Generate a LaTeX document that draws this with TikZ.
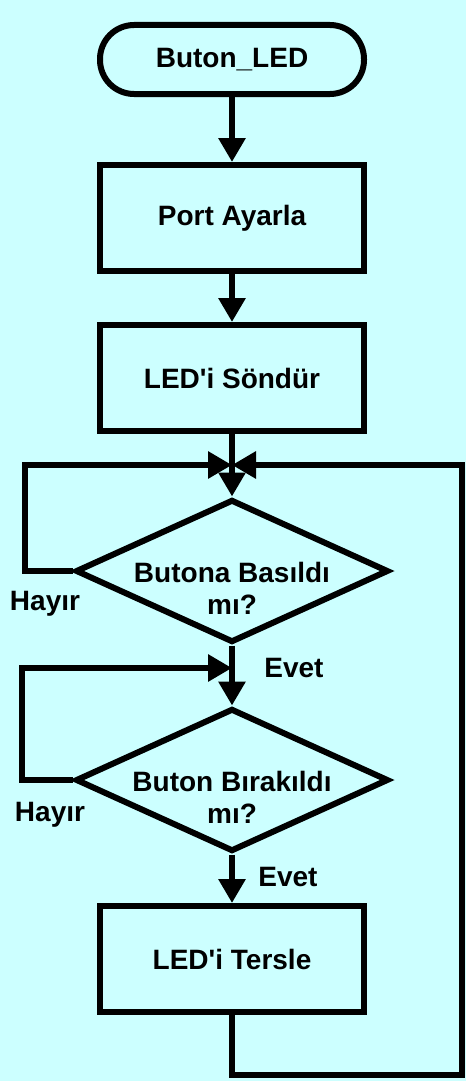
\documentclass[tikz,border=0pt]{standalone}
\usepackage{fontspec}
\setmainfont{Liberation Sans}
\usetikzlibrary{arrows.meta,shapes.geometric}
\definecolor{bgcyan}{HTML}{CCFFFF}
\begin{document}
\begin{tikzpicture}[x=1pt,y=-1pt,
  font=\fontsize{28}{32}\selectfont\bfseries,
  line width=6pt,
  arr/.style={-{Triangle[length=24pt,width=26pt]}},
  term/.style={draw, rectangle, rounded corners=34pt, minimum width=264pt, minimum height=69pt, inner sep=0pt},
  proc/.style={draw, rectangle, minimum width=264pt, minimum height=106pt, inner sep=0pt},
  dec/.style={draw, diamond, minimum width=313pt, minimum height=143pt, inner sep=0pt, aspect=2.2},
  lbl/.style={inner sep=0pt},
  dtxt/.style={align=center, inner sep=0pt}
]
\fill[bgcyan] (0,0) rectangle (466,1081);
\useasboundingbox (0,0) rectangle (466,1081);

\node[term] (start) at (232,59.5) {Buton\_LED};
\node[proc] (port) at (232,218) {Port Ayarla};
\node[proc] (off) at (232,378) {LED\textquotesingle i Söndür};
\node[dec] (d1) at (232,571) {};
\node[dtxt] (t1) at (232,588) {Butona Basıldı\\mı?};
\node[dec] (d2) at (232,780) {};
\node[dtxt] (t2) at (232,797) {Buton Bırakıldı\\mı?};
\node[proc] (tog) at (232,959) {LED\textquotesingle i Tersle};

\coordinate (j1) at (232,465);
\coordinate (j2) at (232,668);
\coordinate (l1) at (25,465);
\coordinate (l2) at (22,668);
\coordinate (rb) at (462,1075);
\coordinate (rt) at (462,465);

\node[lbl] (h1) at (45,604) {Hayır};
\node[lbl] (e1) at (294,668) {Evet};
\node[lbl] (h2) at (50,815) {Hayır};
\node[lbl] (e2) at (288,877) {Evet};

\draw[arr] (start) -- (port);
\draw[arr] (port) -- (off);
\draw[arr] (off) -- (d1.north);
\draw[arr] (d1.west) -| (l1) -- (j1);
\draw[arr] (d1.south) -- (d2.north);
\draw[arr] (d2.west) -| (l2) -- (j2);
\draw[arr] (d2.south) -- (tog);
\draw[arr] (tog.south) |- (rb) -- (rt) -- (j1);
\end{tikzpicture}
\end{document}
